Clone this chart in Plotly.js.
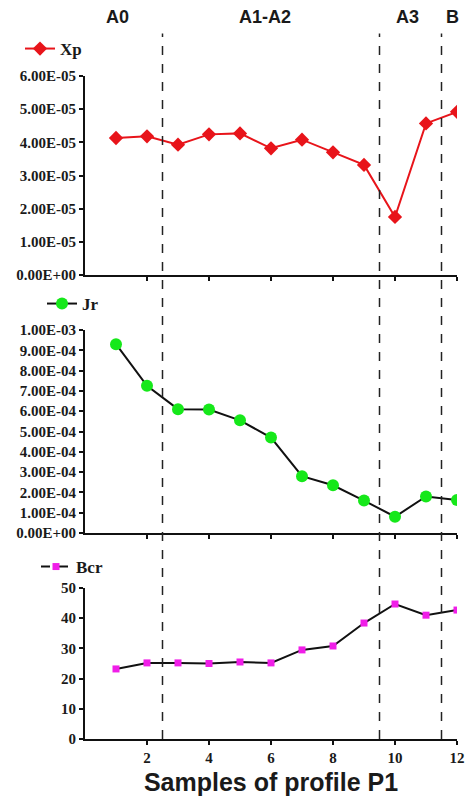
<!DOCTYPE html>
<html>
<head>
<meta charset="utf-8">
<script src="https://cdn.plot.ly/plotly-3.0.1.min.js"></script>
<style>html,body{margin:0;padding:0;background:#fff;}#chart{width:469px;height:797px;}</style>
</head>
<body>
<div id="chart"></div>
<script>
const samples = [1,2,3,4,5,6,7,8,9,10,11,12];
const xp = [4.13e-5,4.18e-5,3.93e-5,4.24e-5,4.27e-5,3.82e-5,4.08e-5,3.70e-5,3.32e-5,1.75e-5,4.57e-5,4.92e-5];
const jr = [9.3e-4,7.25e-4,6.1e-4,6.08e-4,5.55e-4,4.7e-4,2.8e-4,2.35e-4,1.6e-4,0.8e-4,1.8e-4,1.62e-4];
const bcr = [23.2,25.2,25.2,25.0,25.5,25.2,29.5,30.8,38.4,44.7,41.0,42.7];
const xpTickVals = [0,1e-5,2e-5,3e-5,4e-5,5e-5,6e-5];
const xpTickText = ["0.00E+00","1.00E-05","2.00E-05","3.00E-05","4.00E-05","5.00E-05","6.00E-05"];
const jrTickVals = [0,1e-4,2e-4,3e-4,4e-4,5e-4,6e-4,7e-4,8e-4,9e-4,1e-3];
const jrTickText = ["0.00E+00","1.00E-04","2.00E-04","3.00E-04","4.00E-04","5.00E-04","6.00E-04","7.00E-04","8.00E-04","9.00E-04","1.00E-03"];
const bcrTickVals = [0,10,20,30,40,50];
const xTickVals = [2,4,6,8,10,12];
const zoneNames = ["A0","A1-A2","A3","B"];
const zoneCenters = [1.05,5.8,10.4,11.85];
const boundaries = [2.5,9.5,11.5];

const serifBold = {family:"Liberation Serif, serif", size:15, color:"#1a1a1a", weight:"bold"};
const sansBold = {family:"Liberation Sans, Arial, sans-serif", size:18, color:"#1a1a1a", weight:"bold"};

const traces = [
  {x:samples, y:xp, xaxis:"x", yaxis:"y", name:"Xp", mode:"lines+markers",
   line:{color:"#e8141a", width:2}, marker:{symbol:"diamond", size:11, color:"#e8141a"},
   legend:"legend"},
  {x:samples, y:jr, xaxis:"x2", yaxis:"y2", name:"Jr", mode:"lines+markers",
   line:{color:"#111", width:2}, marker:{symbol:"circle", size:12, color:"#16e81a"},
   legend:"legend2"},
  {x:samples, y:bcr, xaxis:"x3", yaxis:"y3", name:"Bcr", mode:"lines+markers",
   line:{color:"#111", width:2}, marker:{symbol:"square", size:7, color:"#f01ee8"},
   showlegend:false},
  {x:[null], y:[null], xaxis:"x3", yaxis:"y3", name:"Bcr", mode:"lines+markers",
   line:{color:"#111", width:2, dash:"dash"}, marker:{symbol:"square", size:7, color:"#f01ee8"},
   legend:"legend3"}
];

function xa(anchor, showLabels){
  return {anchor:anchor, range:[0,12], domain:[0,1], tickvals:xTickVals,
    showticklabels:showLabels, ticks:"outside", ticklen:4, tickwidth:2, tickcolor:"#111",
    showline:true, linecolor:"#111", linewidth:2, showgrid:false, zeroline:false,
    tickfont:serifBold, fixedrange:true};
}
function ya(anchor, domain, range, vals, text){
  const o = {anchor:anchor, domain:domain, range:range, tickvals:vals,
    ticks:"outside", ticklen:4, tickwidth:2, tickcolor:"#111",
    showline:true, linecolor:"#111", linewidth:2, showgrid:false, zeroline:false,
    tickfont:serifBold, fixedrange:true};
  if (text) o.ticktext = text;
  return o;
}

const xaxis3 = xa("y3", true);
xaxis3.title = {text:"Samples of profile P1", font:{family:"Liberation Sans, Arial, sans-serif", size:25, color:"#1a1a1a", weight:"bold"}, standoff:8};

const shapes = boundaries.map(b => ({type:"line", xref:"x", yref:"paper", x0:b, x1:b, y0:0.0728, y1:0.958,
  line:{color:"#222", width:1.5, dash:"dash"}}));

const annotations = zoneNames.map((n,i) => ({text:n, x:zoneCenters[i], xref:"x", y:1-17/797, yref:"paper",
  showarrow:false, font:sansBold, xanchor:"center", yanchor:"middle"}));

const legFont = {family:"Liberation Serif, serif", size:17, color:"#1a1a1a", weight:"bold"};
const layout = {
  width:469, height:797, margin:{l:85, r:12, t:0, b:0},
  paper_bgcolor:"#fff", plot_bgcolor:"#fff", showlegend:true,
  xaxis: xa("y", false),
  xaxis2: xa("y2", false),
  xaxis3: xaxis3,
  yaxis: ya("x", [1-275/797, 1-76/797], [0,6e-5], xpTickVals, xpTickText),
  yaxis2: ya("x2", [1-533/797, 1-330/797], [0,1e-3], jrTickVals, jrTickText),
  yaxis3: ya("x3", [1-739/797, 1-588/797], [0,50], bcrTickVals, null),
  legend:{x:(20-85)/372, y:1-49/797, xanchor:"left", yanchor:"middle", bgcolor:"rgba(0,0,0,0)", font:legFont, itemwidth:30},
  legend2:{x:(42-85)/372, y:1-304/797, xanchor:"left", yanchor:"middle", bgcolor:"rgba(0,0,0,0)", font:legFont, itemwidth:30},
  legend3:{x:(36-85)/372, y:1-567/797, xanchor:"left", yanchor:"middle", bgcolor:"rgba(0,0,0,0)", font:legFont, itemwidth:30},
  shapes:shapes, annotations:annotations
};
Plotly.newPlot("chart", traces, layout, {displayModeBar:false, staticPlot:true});
</script>
</body>
</html>
